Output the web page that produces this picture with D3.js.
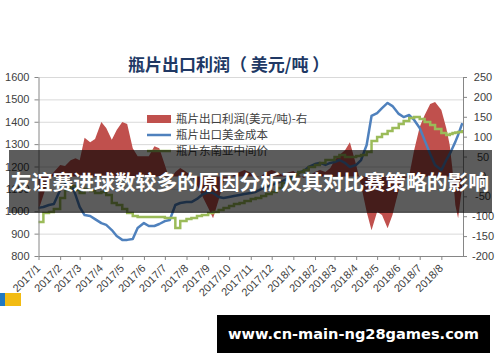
<!DOCTYPE html>
<html>
<head>
<meta charset="utf-8">
<script src="https://cdn.jsdelivr.net/npm/d3@7"></script>
<style>
  body { margin: 0; background: #fff; }
  svg { display: block; }
</style>
</head>
<body>
<svg id="chart"></svg>
<script>
// weekly samples
const dates = [
  "2017-01-01","2017-01-08","2017-01-16","2017-01-23",
  "2017-02-01","2017-02-08","2017-02-16","2017-02-23",
  "2017-03-01","2017-03-08","2017-03-16","2017-03-23",
  "2017-04-01","2017-04-08","2017-04-16","2017-04-23",
  "2017-05-01","2017-05-08","2017-05-16","2017-05-23",
  "2017-06-01","2017-06-08","2017-06-16","2017-06-23",
  "2017-07-01","2017-07-08","2017-07-16","2017-07-23",
  "2017-08-01","2017-08-08","2017-08-16","2017-08-23",
  "2017-09-01","2017-09-08","2017-09-16","2017-09-23",
  "2017-10-01","2017-10-08","2017-10-16","2017-10-23",
  "2017-11-01","2017-11-08","2017-11-16","2017-11-23",
  "2017-12-01","2017-12-08","2017-12-16","2017-12-23",
  "2018-01-01","2018-01-08","2018-01-16","2018-01-23",
  "2018-02-01","2018-02-08","2018-02-16","2018-02-23",
  "2018-03-01","2018-03-08","2018-03-16","2018-03-23",
  "2018-04-01","2018-04-08","2018-04-16","2018-04-23",
  "2018-05-01","2018-05-08","2018-05-16","2018-05-23",
  "2018-06-01","2018-06-08","2018-06-16","2018-06-23",
  "2018-07-01","2018-07-08","2018-07-16","2018-07-23",
  "2018-08-01","2018-08-08","2018-08-13","2018-08-17","2018-08-21","2018-08-25","2018-08-31"
];

// 瓶片出口利润 (right axis)
const profit = [
  -85, -47, -4, 11,
  29, 26, 41, 46,
  41, 97, 86, 94,
  137, 122, 92, 117,
  137, 132, 71, 51,
  51, 51, 76, 71,
  29, -9, 11, 21,
  11, 1, -22, -47,
  -79, -105, -59, -14,
  -4, 4, 11, 16,
  9, -4, 1, 11,
  16, 11, 4, 9,
  14, 4, -4, 1,
  11, 16, 11, 21,
  41, 54, 66, 86,
  29, -22, -89, -135,
  -89, -97, -130, -97,
  -34, -9, 3, 66,
  124, 154, 182, 187,
  167, 122, 79, 16, -72, -105, -22
];

// 瓶片出口美金成本 (left axis)
const cost = [
  1015, 1019, 1028, 1032,
  1095, 1122, 1131, 1073,
  1019, 983, 979, 965,
  947, 939, 916, 889,
  872, 872, 876, 925,
  947, 934, 934, 943,
  956, 961, 1028, 1037,
  1041, 1041, 1055, 1073,
  1086, 1082, 1064, 1059,
  1064, 1068, 1073, 1077,
  1082, 1086, 1099, 1108,
  1117, 1126, 1135, 1144,
  1158, 1171, 1180, 1198,
  1211, 1216, 1207, 1216,
  1220, 1229, 1216, 1198,
  1207, 1229, 1296, 1426,
  1439, 1461, 1484, 1470,
  1435, 1421, 1430, 1408,
  1372, 1318, 1256, 1207,
  1184, 1229, 1256, 1283, 1310, 1341, 1394
];

// 瓶片东南亚中间价 (left axis)
const midPrice = [
  952, 992, 997, 1010,
  1059, 1095, 1113, 1095,
  1082, 1099, 1090, 1082,
  1086, 1073, 1037, 1028,
  1010, 992, 979, 974,
  974, 974, 974, 974,
  970, 970, 925, 956,
  965, 970, 979, 983,
  992, 997, 1006, 1015,
  1023, 1032, 1037, 1046,
  1055, 1059, 1068, 1077,
  1086, 1104, 1126, 1144,
  1162, 1175, 1184, 1198,
  1207, 1216, 1229, 1229,
  1242, 1251, 1242, 1242,
  1247, 1251, 1265, 1314,
  1332, 1345, 1359, 1372,
  1390, 1403, 1417, 1421,
  1412, 1399, 1385, 1368,
  1350, 1341, 1345, 1350, 1352, 1354, 1363
];

const leftTicks = [800, 900, 1000, 1100, 1200, 1300, 1400, 1500, 1600];
const rightTicks = [-200, -150, -100, -50, 0, 50, 100, 150, 200, 250];
const seriesNames = ["瓶片出口利润(美元/吨)-右", "瓶片出口美金成本", "瓶片东南亚中间价"];
const chartTitle = "瓶片出口利润（ 美元/吨 ）";
const bannerText = "友谊赛进球数较多的原因分析及其对比赛策略的影响";
const siteText = "www.cn-main-ng28games.com";

const W = 500, H = 362;
const margin = {top: 77, right: 37, bottom: 106, left: 38.5};
const innerW = W - margin.left - margin.right;
const innerH = H - margin.top - margin.bottom;
const colors = {profit: "#c0504d", cost: "#4f81bd", mid: "#9bbb59", axis: "#868686", grid: "#d9d9d9", text: "#404040"};
const latin = "'Liberation Sans', Arial, sans-serif";
const cjk = "'Noto Sans CJK SC', sans-serif";

const parse = d3.timeParse("%Y-%m-%d");
const rows = dates.map((d, i) => ({date: parse(d), profit: profit[i], cost: cost[i], mid: midPrice[i]}));

const svg = d3.select("#chart").attr("width", W).attr("height", H);
svg.append("rect").attr("width", W).attr("height", H).attr("fill", "#fff");

const chart = svg.append("g").attr("transform", `translate(${margin.left},${margin.top})`);

const x = d3.scaleTime()
  .domain([parse("2017-01-01"), parse("2018-09-01")])
  .range([0, innerW]);
const yL = d3.scaleLinear().domain([800, 1600]).range([innerH, 0]);
const yR = d3.scaleLinear().domain([-200, 250]).range([innerH, 0]);

// gridlines
chart.append("g")
  .call(d3.axisLeft(yL).tickValues(leftTicks).tickSize(-innerW).tickFormat(""))
  .call(g => g.select(".domain").remove())
  .call(g => g.selectAll("line").attr("stroke", colors.grid).attr("stroke-width", 1));

// profit area
const area = d3.area()
  .x(d => x(d.date))
  .y0(yR(0))
  .y1(d => yR(d.profit));
chart.append("path").datum(rows)
  .attr("d", area)
  .attr("fill", colors.profit);

const costLine = d3.line().x(d => x(d.date)).y(d => yL(d.cost));
chart.append("path").datum(rows)
  .attr("d", costLine)
  .attr("fill", "none")
  .attr("stroke", colors.cost)
  .attr("stroke-width", 2.5)
  .attr("stroke-linejoin", "round");

const midLine = d3.line().x(d => x(d.date)).y(d => yL(d.mid)).curve(d3.curveStepAfter);
chart.append("path").datum(rows)
  .attr("d", midLine)
  .attr("fill", "none")
  .attr("stroke", colors.mid)
  .attr("stroke-width", 2.5);

// axes
const plain = d => String(d);
function styleAxis(g) {
  g.selectAll(".domain").attr("stroke", colors.axis);
  g.selectAll(".tick line").attr("stroke", colors.axis);
  g.selectAll("text").attr("fill", colors.text).attr("font-size", 11).attr("font-family", latin);
}

chart.append("g")
  .call(d3.axisLeft(yL).tickValues(leftTicks).tickFormat(plain).tickSize(4).tickSizeOuter(0).tickPadding(5))
  .call(styleAxis);

chart.append("g")
  .attr("transform", `translate(${innerW},0)`)
  .call(d3.axisRight(yR).tickValues(rightTicks).tickFormat(plain).tickSize(4).tickSizeOuter(0))
  .call(styleAxis)
  .call(g => g.selectAll("text").attr("x", 20).attr("text-anchor", "middle"));

chart.append("g")
  .attr("transform", `translate(0,${innerH})`)
  .call(d3.axisBottom(x)
    .tickValues(d3.timeMonth.range(parse("2017-01-01"), parse("2018-09-01")))
    .tickFormat(d3.timeFormat("%Y/%-m"))
    .tickSize(4).tickSizeOuter(0))
  .call(styleAxis)
  .call(g => g.selectAll("text")
    .attr("x", 0).attr("y", 0).attr("dy", 0)
    .attr("text-anchor", "end")
    .attr("transform", "translate(2,13) rotate(-45)"));

// title
svg.append("text")
  .attr("x", 128).attr("y", 71)
  .attr("font-family", cjk).attr("font-weight", "bold").attr("font-size", 17)
  .attr("fill", "#203864")
  .text(chartTitle);

// legend
const legend = svg.append("g").attr("transform", "translate(147,119)");
const legendColors = [colors.profit, colors.cost, colors.mid];
seriesNames.forEach((name, i) => {
  const row = legend.append("g").attr("transform", `translate(0,${i * 16})`);
  if (i === 0) {
    row.append("rect").attr("x", 0).attr("y", -4).attr("width", 24).attr("height", 8).attr("fill", legendColors[i]);
  } else {
    row.append("line").attr("x1", 0).attr("x2", 24).attr("y1", 0).attr("y2", 0)
      .attr("stroke", legendColors[i]).attr("stroke-width", 2.5);
  }
  row.append("text").attr("x", 29).attr("y", 0).attr("dy", "0.35em")
    .attr("font-family", cjk).attr("font-size", 11.5).attr("fill", colors.text)
    .text(name);
});

// dark banner over the chart
svg.append("rect")
  .attr("x", 9).attr("y", 150).attr("width", 483).attr("height", 63)
  .attr("fill", "rgba(0,0,0,0.64)");
svg.append("text")
  .attr("x", 250).attr("y", 183).attr("dy", "0.36em")
  .attr("text-anchor", "middle")
  .attr("font-family", cjk).attr("font-weight", "bold").attr("font-size", 20.8)
  .attr("fill", "#fff")
  .text(bannerText);

// small icon bottom left
svg.append("rect").attr("x", 0).attr("y", 293).attr("width", 5).attr("height", 13).attr("fill", "#1f78c1");
svg.append("rect").attr("x", 5).attr("y", 293).attr("width", 16).attr("height", 13).attr("fill", "#f2bb12");

// site box
svg.append("rect").attr("x", 217).attr("y", 315).attr("width", 273).attr("height", 38).attr("fill", "#000");
svg.append("text")
  .attr("x", 353.5).attr("y", 334).attr("dy", "0.35em")
  .attr("text-anchor", "middle")
  .attr("font-family", "'DejaVu Sans', sans-serif").attr("font-weight", "bold").attr("font-size", 14)
  .attr("textLength", 251).attr("lengthAdjust", "spacingAndGlyphs")
  .attr("fill", "#fff")
  .text(siteText);
</script>
</body>
</html>
